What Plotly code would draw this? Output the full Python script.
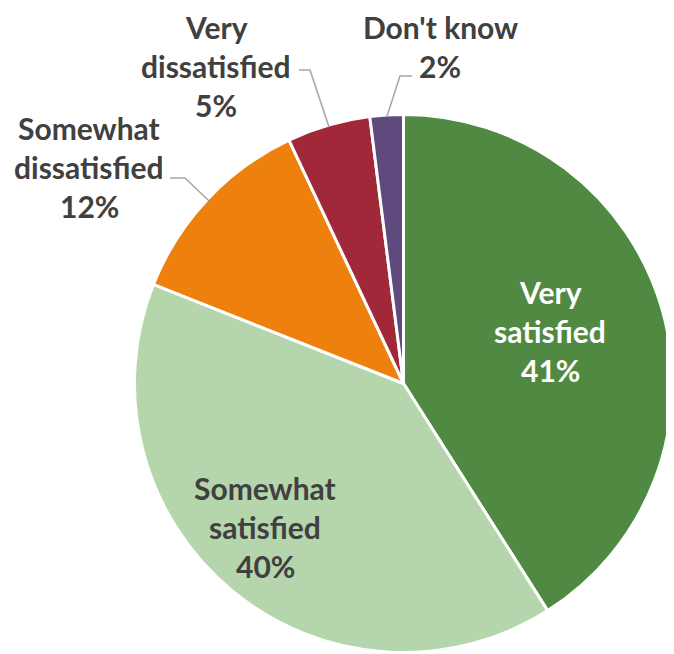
import math

import plotly.graph_objects as go

# the page body has an 8px margin, so the figure is drawn 8px in from the corner
OFF = 8
W, H = 674 - OFF, 654 - OFF

# data
categories = ["Very satisfied", "Somewhat satisfied", "Somewhat dissatisfied",
              "Very dissatisfied", "Don't know"]
shares = [41, 40, 12, 5, 2]
label_lines = [["Very", "satisfied"], ["Somewhat", "satisfied"],
               ["Somewhat", "dissatisfied"], ["Very", "dissatisfied"], ["Don't know"]]
colors = ["#508942", "#B5D5AD", "#EE800D", "#A02839", "#5E4A7C"]

# layout (pixels from the top-left of the window)
CX, CY, R = 403.5, 383.5, 269
FONT = "Lato"
SIZE = 30
LINE_H = 39
text_colors = ["white", "#404040", "#404040", "#404040", "#404040"]
label_pos = [(550, 292), (265, 488), (89, 128), (216, 27), (440, 27)]
# leader lines: text-side end, then the elbow; last point is on the pie edge
leaders = {2: [(170, 178), (185, 178)], 3: [(299, 70), (310, 70)], 4: [(412, 76), (400, 76)]}


def px(x):
    return (x - OFF) / W


def py(y):
    return 1 - (y - OFF) / H


fig = go.Figure(go.Pie(
    labels=categories,
    values=shares,
    sort=False,
    direction="clockwise",
    rotation=0,
    marker=dict(colors=colors, line=dict(color="white", width=3)),
    textinfo="none",
    hoverinfo="label+percent",
    showlegend=False,
    domain=dict(x=[px(CX - R), px(CX + R)], y=[py(CY + R), py(CY - R)]),
))

annotations = []
shapes = []
total = sum(shares)
cum = 0
for i, (cat, v) in enumerate(zip(categories, shares)):
    mid = (cum + v / 2) / total * 2 * math.pi
    cum += v
    lines = label_lines[i] + [f"{v}%"]
    x0, y0 = label_pos[i]
    for k, t in enumerate(lines):
        annotations.append(dict(
            x=px(x0), y=py(y0 + k * LINE_H), xref="paper", yref="paper",
            text=f"<b>{t}</b>", showarrow=False, xanchor="center", yanchor="middle",
            font=dict(family=FONT, size=SIZE, color=text_colors[i]),
        ))
    if i in leaders:
        pts = leaders[i] + [(CX + (R - 2) * math.sin(mid), CY - (R - 2) * math.cos(mid))]
        path = "M " + " L ".join(f"{px(x)},{py(y)}" for x, y in pts)
        shapes.append(dict(type="path", path=path, xref="paper", yref="paper",
                           line=dict(color="#A6A6A6", width=1.5)))

fig.update_layout(
    width=W, height=H,
    margin=dict(t=0, b=0, l=0, r=0),
    paper_bgcolor="white",
    annotations=annotations,
    shapes=shapes,
)

fig.write_html("out.html")
